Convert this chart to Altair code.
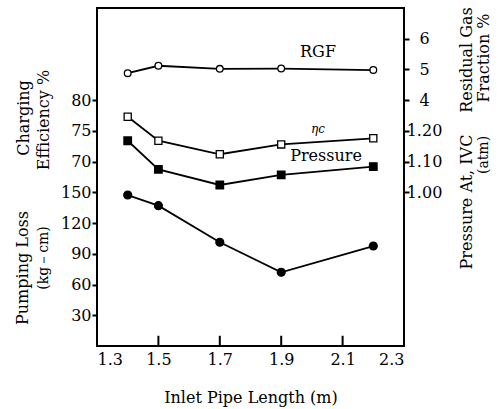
import altair as alt
import pandas as pd

# ---- data ----
lengths = [1.4, 1.5, 1.7, 1.9, 2.2]
rgf = [4.88, 5.12, 5.02, 5.03, 4.98]            # Residual gas fraction %
eta_c = [77.3, 73.4, 71.2, 72.8, 73.8]          # Charging efficiency %
pressure = [1.168, 1.075, 1.024, 1.057, 1.084]  # Pressure at IVC (atm)
pumping = [147.4, 137.0, 101.3, 72.0, 97.6]     # Pumping loss (kg-cm)

x_ticks = [1.3, 1.5, 1.7, 1.9, 2.1, 2.3]
inner_ticks = [1.5, 1.7, 1.9, 2.1]

# common vertical unit shared by all four quantities (one grid step = 30)
def to_u(series, v):
    if series == "RGF":
        return 240 + (v - 4) * 30
    if series == "eta":
        return 180 + (v - 70) * 6
    if series == "Pressure":
        return 150 + (v - 1.0) * 300
    return v

rows = []
for name, vals in [("RGF", rgf), ("eta", eta_c), ("Pressure", pressure), ("Pumping", pumping)]:
    for L, v in zip(lengths, vals):
        rows.append({"length": L, "series": name, "value": v, "u": to_u(name, v)})
df = pd.DataFrame(rows)

notes = pd.DataFrame({
    "length": [2.02, 2.02, 2.046],
    "u": [287, 212, 185.5],
    "label": ["RGF", "ηc", "Pressure"],
    "kind": ["n", "i", "n"],
})

FONT = "DejaVu Serif"
W, H = 307, 338
YDOM = [0, 330]
LBL = dict(labelFont=FONT, labelFontSize=16, labelColor="black", tickColor="black")

xenc = alt.X("length:Q", scale=alt.Scale(domain=[1.3, 2.3]),
             axis=alt.Axis(values=x_ticks, format=".1f", ticks=False, labelPadding=5,
                           title=None, domain=False, grid=False, **LBL))

lines = alt.Chart(df).mark_line(color="black", strokeWidth=1.8).encode(
    x=xenc,
    y=alt.Y("u:Q", scale=alt.Scale(domain=YDOM),
            axis=alt.Axis(values=[30, 60, 90, 120, 150, 180, 210, 240],
                          labelExpr="datum.value <= 150 ? format(datum.value, 'd') : format(65 + (datum.value - 150) / 6, 'd')",
                          tickSize=5, tickWidth=2, labelPadding=1, title=None, domain=False, grid=False, **LBL)),
    detail="series:N",
)

points = alt.Chart(df).mark_point(filled=True, stroke="black", strokeWidth=1.3, opacity=1).encode(
    x=alt.X("length:Q", scale=alt.Scale(domain=[1.3, 2.3])),
    y=alt.Y("u:Q", scale=alt.Scale(domain=YDOM),
            axis=alt.Axis(orient="right", values=[150, 180, 210, 240, 270, 300],
                          labelExpr="datum.value <= 210 ? format(1 + (datum.value - 150) / 300, '.2f') : format(4 + (datum.value - 240) / 30, 'd')",
                          tickSize=5, tickWidth=2, labelPadding=15, labelAlign="center",
                          title=None, domain=False, grid=False, **LBL)),
    shape=alt.Shape("series:N", scale=alt.Scale(domain=["RGF", "eta", "Pressure", "Pumping"],
                                                range=["circle", "square", "square", "circle"]), legend=None),
    fill=alt.Fill("series:N", scale=alt.Scale(domain=["RGF", "eta", "Pressure", "Pumping"],
                                              range=["white", "white", "black", "black"]), legend=None),
    size=alt.Size("series:N", scale=alt.Scale(domain=["RGF", "eta", "Pressure", "Pumping"],
                                              range=[45, 62, 70, 50]), legend=None),
)

ticks = alt.Chart(pd.DataFrame({"t": inner_ticks})).mark_rule(color="black", strokeWidth=2).encode(
    x=alt.X("t:Q", scale=alt.Scale(domain=[1.3, 2.3])),
    y=alt.Y("y0:Q", scale=alt.Scale(domain=YDOM), axis=None),
    y2="y1:Q",
).transform_calculate(y0="0", y1="10")

note_n = alt.Chart(notes).transform_filter("datum.kind == 'n'").mark_text(
    font=FONT, fontSize=16, color="black").encode(
    x=alt.X("length:Q", scale=alt.Scale(domain=[1.3, 2.3])),
    y=alt.Y("u:Q", scale=alt.Scale(domain=YDOM), axis=None),
    text="label:N",
)
note_i = alt.Chart(notes).transform_filter("datum.kind == 'i'").mark_text(
    font=FONT, fontSize=12, fontStyle="italic", color="black").encode(
    x=alt.X("length:Q", scale=alt.Scale(domain=[1.3, 2.3])),
    y=alt.Y("u:Q", scale=alt.Scale(domain=YDOM), axis=None),
    text="label:N",
)

dummy = pd.DataFrame({"a": [0]})

def title_text(txt, px, py, angle=270, size=16):
    return alt.Chart(dummy).mark_text(text=txt, font=FONT, fontSize=size, angle=angle,
                                      align="center", baseline="middle", color="black").encode(
        x=alt.value(px), y=alt.value(py))

titles = [
    title_text("Charging", -73, 110),
    title_text("Efficiency %", -53, 112),
    title_text("Pumping Loss", -74, 260),
    title_text("(kg－cm)", -53, 250, size=14),
    title_text("Inlet Pipe Length (m)", 154, 390, angle=0),
    title_text("Residual Gas", 370, 52),
    title_text("Pressure At, IVC", 370, 194),
    title_text("Fraction %", 387, 50),
    title_text("(atm)", 387, 147, size=14),
]

chart = alt.layer(lines, points, ticks, note_n, note_i, *titles).resolve_scale(
    y="independent"
).properties(
    width=W, height=H,
    autosize=alt.AutoSizeParams(type="none"),
    padding={"left": 97, "top": 8, "right": 95, "bottom": 63},
    background="white",
).configure_view(
    stroke="black", strokeWidth=2
)

chart.save("out.html", embed_options={"renderer": "svg", "actions": False})
